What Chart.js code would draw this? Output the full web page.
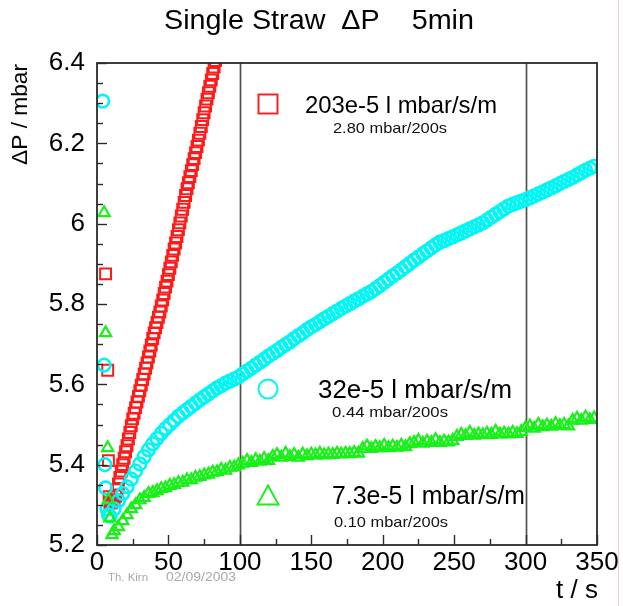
<!DOCTYPE html>
<html>
<head>
<meta charset="utf-8">
<script src="https://cdn.jsdelivr.net/npm/chart.js@4.4.1/dist/chart.umd.min.js"></script>
<style>
html,body{margin:0;padding:0;background:#fff;}
canvas{display:block;}
</style>
</head>
<body>
<canvas id="c" width="623" height="606"></canvas>
<script>
// ---------- DATA ----------
const chartTitle = 'Single Straw  \u0394P    5min';
const yAxisTitle = '\u0394P / mbar';
const xAxisTitle = 't / s';
const signatureName = 'Th. Kirn';
const signatureDate = '02/09/2003';

const xTickValues = [0, 50, 100, 150, 200, 250, 300, 350];
const xTickLabels = ['0', '50', '100', '150', '200', '250', '300', '350'];
const xTickMarks = [0, 25, 50, 75, 100, 125, 150, 175, 200, 225, 250, 275, 300, 325, 350];
const yTickValues = [5.2, 5.4, 5.6, 5.8, 6.0, 6.2, 6.4];
const yTickLabels = ['5.2', '5.4', '5.6', '5.8', '6', '6.2', '6.4'];
const yTickMarks = [5.2, 5.25, 5.3, 5.35, 5.4, 5.45, 5.5, 5.55, 5.6, 5.65, 5.7, 5.75, 5.8, 5.85, 5.9, 5.95, 6.0, 6.05, 6.1, 6.15, 6.2, 6.25, 6.3, 6.35, 6.4];
const referenceLines = [100, 300];

const seriesNames = ['203e-5 l mbar/s/m', '32e-5 l mbar/s/m', '7.3e-5 l mbar/s/m'];
const seriesRates = ['2.80 mbar/200s', '0.44 mbar/200s', '0.10 mbar/200s'];

const redTimes = [6, 7.5, 8, 8.5, 9, 10, 11, 12, 13, 14, 15, 16, 17, 18, 19, 20, 21, 22, 23, 24, 25, 26, 27, 28, 29, 30,
  31, 32, 33, 34, 35, 36, 37, 38, 39, 40, 41, 42, 43, 44, 45, 46, 47, 48, 49, 50, 51, 52, 53, 54, 55, 56, 57, 58, 59, 60,
  61, 62, 63, 64, 65, 66, 67, 68, 69, 70, 71, 72, 73, 74, 75, 76, 77, 78, 79, 80, 81, 82, 83];
const redValues = [5.875, 5.635, 5.41, 5.32, 5.305, 5.305, 5.308, 5.312, 5.322, 5.338, 5.352, 5.368, 5.384, 5.4, 5.416, 5.432,
  5.447, 5.464, 5.48, 5.497, 5.514, 5.528, 5.542, 5.556, 5.57, 5.584, 5.598, 5.612, 5.626, 5.64, 5.653, 5.668, 5.683, 5.698,
  5.714, 5.728, 5.741, 5.754, 5.767, 5.78, 5.795, 5.81, 5.826, 5.842, 5.857, 5.873, 5.889, 5.905, 5.921, 5.937, 5.952, 5.968,
  5.985, 6.002, 6.019, 6.036, 6.053, 6.07, 6.087, 6.102, 6.117, 6.132, 6.147, 6.162, 6.177, 6.192, 6.208, 6.225, 6.242,
  6.259, 6.276, 6.293, 6.31, 6.326, 6.342, 6.358, 6.374, 6.39, 6.406];

const cyanTimes = [4, 5, 5.5, 6, 7, 8, 9, 12, 15, 18, 21, 24, 27, 30, 33, 36, 39, 42, 45, 48, 51, 54, 57, 60, 63, 66, 69,
  72, 75, 78, 81, 84, 87, 90, 93, 96, 99, 102, 105, 108, 111, 114, 117, 120, 123, 126, 129, 132, 135, 138, 141, 144, 147,
  150, 153, 156, 159, 162, 165, 168, 171, 174, 177, 180, 183, 186, 189, 192, 195, 198, 201, 204, 207, 210, 213, 216, 219,
  222, 225, 228, 231, 234, 237, 240, 243, 246, 249, 252, 255, 258, 261, 264, 267, 270, 273, 276, 279, 282, 285, 288, 291,
  294, 297, 300, 303, 306, 309, 312, 315, 318, 321, 324, 327, 330, 333, 336, 339, 342, 345, 348];
const cyanValues = [6.305, 5.648, 5.40, 5.342, 5.29, 5.275, 5.272, 5.29, 5.31, 5.328, 5.345, 5.364, 5.384, 5.402, 5.42,
  5.437, 5.452, 5.465, 5.478, 5.49, 5.50, 5.51, 5.52, 5.529, 5.537, 5.545, 5.553, 5.561, 5.569, 5.576, 5.584, 5.591, 5.597,
  5.603, 5.608, 5.613, 5.618, 5.626, 5.633, 5.64, 5.648, 5.655, 5.662, 5.67, 5.677, 5.684, 5.692, 5.699, 5.706, 5.714,
  5.721, 5.728, 5.736, 5.743, 5.749, 5.756, 5.763, 5.769, 5.776, 5.782, 5.789, 5.795, 5.801, 5.807, 5.813, 5.819, 5.825,
  5.831, 5.838, 5.846, 5.854, 5.862, 5.87, 5.877, 5.885, 5.893, 5.901, 5.909, 5.917, 5.925, 5.932, 5.94, 5.947, 5.954,
  5.958, 5.963, 5.967, 5.972, 5.977, 5.982, 5.987, 5.992, 5.997, 6.002, 6.009, 6.016, 6.023, 6.03, 6.037, 6.044, 6.048,
  6.052, 6.056, 6.06, 6.064, 6.069, 6.074, 6.079, 6.084, 6.089, 6.094, 6.10, 6.105, 6.11, 6.115, 6.121, 6.127, 6.133,
  6.138, 6.143];

const greenTimes = [5, 6, 7.5, 8, 9, 10.5, 12, 15, 18, 21, 24, 27, 30, 33, 36, 39, 42, 45, 48, 51, 54, 57, 60, 63, 66, 69,
  72, 75, 78, 81, 84, 87, 90, 93, 96, 99, 102, 105, 108, 111, 114, 117, 120, 123, 126, 129, 132, 135, 138, 141, 144, 147,
  150, 153, 156, 159, 162, 165, 168, 171, 174, 177, 180, 183, 186, 189, 192, 195, 198, 201, 204, 207, 210, 213, 216, 219,
  222, 225, 228, 231, 234, 237, 240, 243, 246, 249, 252, 255, 258, 261, 264, 267, 270, 273, 276, 279, 282, 285, 288, 291,
  294, 297, 300, 303, 306, 309, 312, 315, 318, 321, 324, 327, 330, 333, 336, 339, 342, 345, 348];
const greenValues = [6.027, 5.728, 5.442, 5.312, 5.267, 5.225, 5.235, 5.245, 5.26, 5.275, 5.29, 5.30, 5.312, 5.318, 5.328,
  5.33, 5.335, 5.34, 5.342, 5.348, 5.35, 5.355, 5.356, 5.362, 5.362, 5.368, 5.37, 5.374, 5.376, 5.381, 5.382, 5.388, 5.386,
  5.393, 5.394, 5.399, 5.403, 5.41, 5.405, 5.412, 5.408, 5.415, 5.41, 5.42, 5.425, 5.418, 5.428, 5.42, 5.425, 5.418, 5.426,
  5.422, 5.426, 5.424, 5.428, 5.424, 5.426, 5.425, 5.428, 5.426, 5.428, 5.427, 5.43, 5.428, 5.44, 5.446, 5.44, 5.445, 5.442,
  5.448, 5.442, 5.446, 5.443, 5.448, 5.444, 5.452, 5.455, 5.46, 5.453, 5.458, 5.455, 5.462, 5.455, 5.458, 5.456, 5.46, 5.47,
  5.475, 5.472, 5.48, 5.473, 5.476, 5.474, 5.478, 5.475, 5.483, 5.476, 5.478, 5.476, 5.48, 5.477, 5.482, 5.492, 5.496, 5.49,
  5.50, 5.494, 5.498, 5.495, 5.502, 5.497, 5.50, 5.496, 5.51, 5.515, 5.51, 5.518, 5.512, 5.516];

// ---------- STYLE ----------
const FONT = '"Liberation Sans", Arial, Helvetica, sans-serif';
const RED = '#ff1a1a', CYAN = '#00f5f5', GREEN = '#19f019';

function pts(ts, vs) { return ts.map((t, i) => ({ x: t, y: vs[i] })); }

function fitText(ctx, text, x, y, width, size) {
  ctx.font = size + 'px ' + FONT;
  const w = ctx.measureText(text).width;
  ctx.save();
  ctx.translate(x, y);
  ctx.scale(width / w, 1);
  ctx.fillText(text, 0, 0);
  ctx.restore();
}

const overlay = {
  id: 'overlay',
  beforeDatasetsDraw(chart) {
    const { ctx, chartArea: a, scales: { x } } = chart;
    ctx.save();
    ctx.strokeStyle = '#505050';
    ctx.lineWidth = 1.7;
    referenceLines.forEach(v => {
      const px = Math.round(x.getPixelForValue(v)) + 0.5;
      ctx.beginPath(); ctx.moveTo(px, a.top); ctx.lineTo(px, a.bottom); ctx.stroke();
    });
    ctx.restore();
  },
  afterDraw(chart) {
    const { ctx, chartArea: a, scales: { x, y } } = chart;
    ctx.save();
    // frame
    ctx.strokeStyle = '#2a2a2a';
    ctx.lineWidth = 1.8;
    ctx.strokeRect(a.left, a.top, a.right - a.left, a.bottom - a.top);
    // tick marks (inside)
    ctx.lineWidth = 1.4;
    xTickMarks.forEach(v => {
      const major = xTickValues.some(m => Math.abs(m - v) < 1e-6);
      const px = Math.round(x.getPixelForValue(v)) + 0.5;
      ctx.beginPath(); ctx.moveTo(px, a.bottom); ctx.lineTo(px, a.bottom - (major ? 10 : 6)); ctx.stroke();
    });
    yTickMarks.forEach(v => {
      const major = yTickValues.some(m => Math.abs(m - v) < 1e-6);
      const py = Math.round(y.getPixelForValue(v)) + 0.5;
      ctx.beginPath(); ctx.moveTo(a.left, py); ctx.lineTo(a.left + (major ? 10 : 6), py); ctx.stroke();
    });

    // title
    ctx.fillStyle = '#000';
    ctx.textAlign = 'left';
    ctx.textBaseline = 'alphabetic';
    fitText(ctx, chartTitle, 164, 29, 310, 27);

    // y axis title
    ctx.save();
    ctx.translate(27, 165);
    ctx.rotate(-Math.PI / 2);
    fitText(ctx, yAxisTitle, 0, 0, 101, 22);
    ctx.restore();

    // x axis title
    fitText(ctx, xAxisTitle, 556, 598, 42, 26);

    // signature
    ctx.fillStyle = '#a8a8a8';
    fitText(ctx, signatureName, 108, 581, 40, 11);
    fitText(ctx, signatureDate, 166, 581, 70, 12);

    // legend markers
    ctx.lineWidth = 1.9;
    ctx.strokeStyle = RED;
    ctx.strokeRect(258.5, 94.5, 19, 19);
    ctx.strokeStyle = CYAN;
    ctx.beginPath(); ctx.arc(268, 389, 9.5, 0, Math.PI * 2); ctx.stroke();
    ctx.strokeStyle = GREEN;
    ctx.beginPath(); ctx.moveTo(268, 485.5); ctx.lineTo(278.5, 504.5); ctx.lineTo(257.5, 504.5); ctx.closePath(); ctx.stroke();

    // legend texts
    ctx.fillStyle = '#000';
    fitText(ctx, seriesNames[0], 305, 113, 192, 24);
    fitText(ctx, seriesNames[1], 318, 398, 194, 25);
    fitText(ctx, seriesNames[2], 332, 504, 193, 25);
    ctx.fillStyle = '#111';
    fitText(ctx, seriesRates[0], 333, 133, 114, 15);
    fitText(ctx, seriesRates[1], 332, 417, 116, 15);
    fitText(ctx, seriesRates[2], 334, 527, 114, 15);

    // faint page edge line
    ctx.strokeStyle = '#f3cccc';
    ctx.lineWidth = 1;
    ctx.beginPath(); ctx.moveTo(618.5, 0); ctx.lineTo(618.5, 606); ctx.stroke();
    ctx.restore();
  }
};

new Chart(document.getElementById('c'), {
  type: 'scatter',
  data: {
    datasets: [
      { label: seriesNames[2], data: pts(greenTimes, greenValues), pointStyle: 'triangle', pointRadius: 6.5,
        borderColor: GREEN, backgroundColor: 'rgba(0,0,0,0)', borderWidth: 2.2, showLine: false },
      { label: seriesNames[1], data: pts(cyanTimes, cyanValues), pointStyle: 'circle', pointRadius: 6.3,
        borderColor: CYAN, backgroundColor: 'rgba(0,0,0,0)', borderWidth: 2.6, showLine: false },
      { label: seriesNames[0], data: pts(redTimes, redValues), pointStyle: 'rect', pointRadius: 7.7,
        borderColor: RED, backgroundColor: 'rgba(0,0,0,0)', borderWidth: 2, showLine: false }
    ]
  },
  options: {
    responsive: false,
    animation: false,
    events: [],
    layout: { padding: { top: 63, right: 26, left: 0, bottom: 0 } },
    plugins: { legend: { display: false }, tooltip: { enabled: false }, title: { display: false } },
    scales: {
      x: {
        type: 'linear', min: 0, max: 350,
        afterFit(s) { s.height = 61; },
        afterBuildTicks(s) { s.ticks = xTickValues.map(v => ({ value: v })); },
        ticks: { callback: (v, i) => xTickLabels[i], color: '#000', font: { size: 26, family: FONT },
          padding: 2, maxRotation: 0, autoSkip: false },
        grid: { display: false, drawTicks: false },
        border: { display: false }
      },
      y: {
        type: 'linear', min: 5.2, max: 6.4,
        afterFit(s) { s.width = 97; },
        afterBuildTicks(s) { s.ticks = yTickValues.map(v => ({ value: v })); },
        ticks: { callback: (v, i) => yTickLabels[i], color: '#000', font: { size: 26, family: FONT },
          padding: 12, autoSkip: false },
        grid: { display: false, drawTicks: false },
        border: { display: false }
      }
    }
  },
  plugins: [overlay]
});
</script>
</body>
</html>
